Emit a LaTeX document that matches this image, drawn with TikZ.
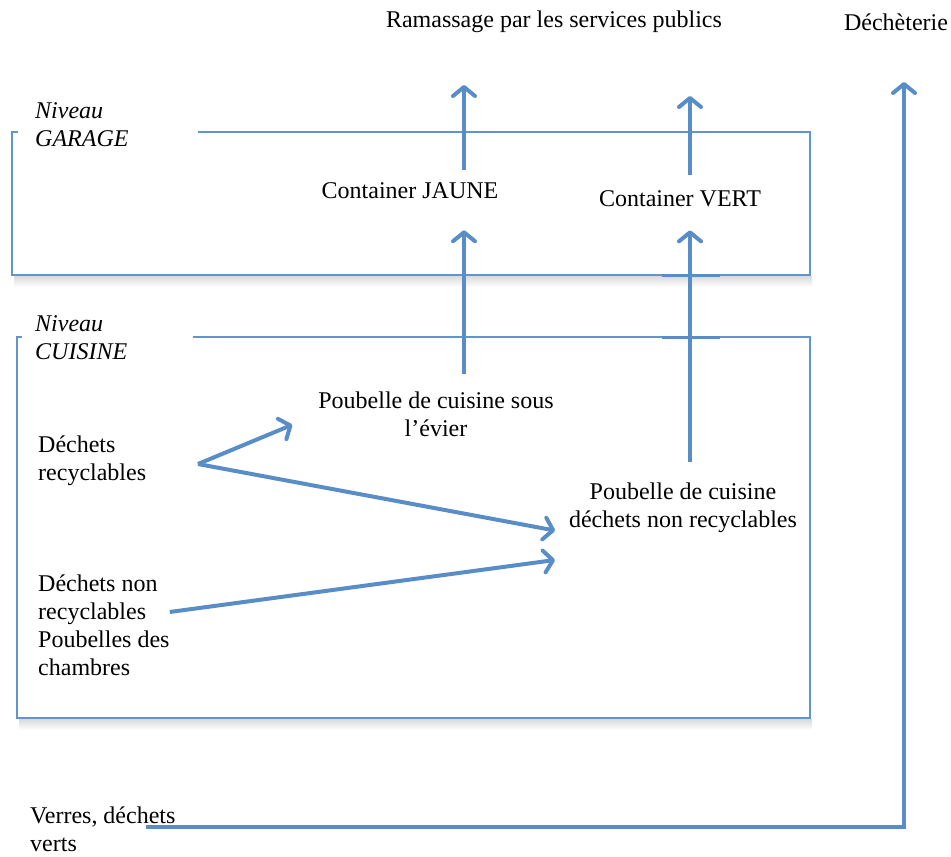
\documentclass[tikz,border=0pt]{standalone}
\usepackage{fontspec}
\setmainfont{Liberation Serif}
\usetikzlibrary{arrows.meta}
\definecolor{arrblue}{RGB}{88,141,200}
\definecolor{boxblue}{RGB}{100,148,205}
\begin{document}
\begin{tikzpicture}[x=1pt,y=-1pt,
  lbl/.style={font=\fontsize{24}{28}\selectfont, inner sep=0pt},
  lvl/.style={font=\fontsize{24}{28}\selectfont\itshape, inner sep=0pt, align=left, anchor=west},
  arr/.style={draw=arrblue, line width=4pt, line join=miter,
    -{Straight Barb[length=9pt,width=22pt,line cap=round,line join=round]}},
  frame/.style={draw=boxblue, line width=1.5pt},
  crossbar/.style={draw=arrblue, line width=3pt}
]
\useasboundingbox (0,0) rectangle (951,857);

% frame shadows
\shade[top color=black!14, bottom color=white, draw=none] (14,276.5) rectangle (812,287);
\shade[top color=black!14, bottom color=white, draw=none] (19,719.5) rectangle (812,730);

% level frames
\draw[frame] (198,132) -- (810,132) -- (810,275) -- (12,275) -- (12,132) -- (18,132);
\draw[frame] (193,337) -- (810,337) -- (810,718) -- (17,718) -- (17,337) -- (22,337);

% texts
\node[lbl] (ram) at (554,22) {Ramassage par les services publics};
\node[lbl] (dech) at (896,22) {Déchèterie};
\node[lvl] (ng) at (35,125) {Niveau\\GARAGE};
\node[lvl] (nc) at (35,338) {Niveau\\CUISINE};
\node[lbl] (cj) at (410,191) {Container JAUNE};
\node[lbl] (cv) at (680,199) {Container VERT};
\node[lbl, align=center] (pe) at (436,414) {Poubelle de cuisine sous\\l’évier};
\node[lbl, align=center] (pn) at (683,508) {Poubelle de cuisine\\déchets non recyclables};
\node[lbl, align=left, anchor=west] (dr) at (38,461) {Déchets\\recyclables};
\node[lbl, align=left, anchor=west] (dn) at (38,625) {Déchets non\\recyclables\\Poubelles des\\chambres};
\node[lbl, align=left, anchor=west] (vv) at (30,829) {Verres, déchets\\verts};

% coordinates
\coordinate (jt) at (464,85);
\coordinate (vt) at (690,96);
\coordinate (dt) at (904,82);
\coordinate (rs) at (198,464);
\coordinate (vs) at (146,827);

% cross bars on the VERT line
\draw[crossbar] (662,275) -- (720,275);
\draw[crossbar] (662,337) -- (720,337);

% arrows
\draw[arr, shorten <=13pt] (cj.north -| jt) -- (jt);
\draw[arr, shorten <=17pt, shorten >=31pt] (pe.north -| jt) -- (cj.south -| jt);
\draw[arr, shorten <=16pt] (cv.north -| vt) -- (vt);
\draw[arr, shorten <=21pt, shorten >=23pt] (pn.north -| vt) -- (cv.south -| vt);
\draw[arr, shorten >=28pt] (rs) -- (pe.west);
\draw[arr, shorten >=14pt] (rs) -- (pn.south west);
\draw[arr, shorten >=14pt] ([yshift=13pt]dn.east) -- ([yshift=-25pt]pn.south west);
\draw[arr] (vs) -- (vs -| dt) -- (dt);
\end{tikzpicture}
\end{document}
